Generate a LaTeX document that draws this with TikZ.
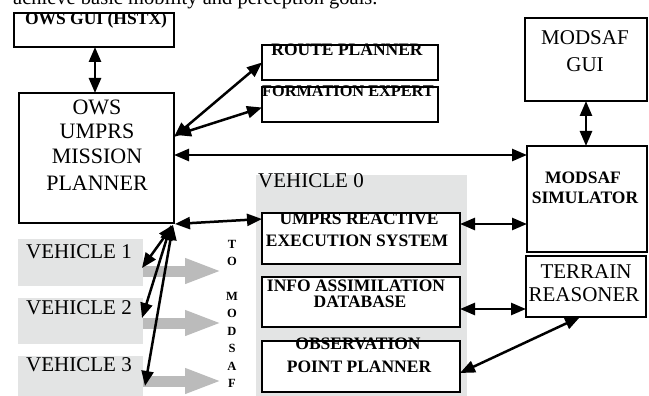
\documentclass[tikz,border=0pt]{standalone}
\usepackage{fontspec}
\setmainfont{Liberation Serif}
\usetikzlibrary{arrows.meta,calc}
\definecolor{bggray}{RGB}{227,228,228}
\definecolor{arrowgray}{RGB}{187,187,187}
\begin{document}
\begin{tikzpicture}[x=1pt,y=-1pt,
  box/.style={draw=black,line width=2.5pt,fill=white,inner sep=0pt,outer sep=0pt,anchor=north west},
  shadebox/.style={fill=bggray,draw=none,inner sep=0pt,outer sep=0pt,anchor=north west},
  lbl/.style={inner sep=0pt,anchor=base,font=\fontsize{21}{24}\selectfont},
  biglbl/.style={inner sep=0pt,anchor=base,font=\fontsize{22}{24}\selectfont},
  blbl/.style={inner sep=0pt,anchor=base,font=\fontsize{17.5}{20}\selectfont\bfseries},
  conn/.style={line width=2.5pt,{Triangle[length=15pt,width=12pt]}-{Triangle[length=15pt,width=12pt]}},
  garrow/.style={line width=11pt,draw=arrowgray,-{Triangle[length=37pt,width=23pt]}}
]
\useasboundingbox (0,0) rectangle (649,396);

% cut-off line of running text
\node[inner sep=0pt,anchor=base west,font=\fontsize{20.5}{24}\selectfont] (toptext) at (13,5) {achieve basic mobility and perception goals.};

% gray backgrounds
\node[shadebox,minimum width=211,minimum height=221] (veh0) at (256,175) {};
\node[shadebox,minimum width=125,minimum height=47] (v1) at (18,239) {};
\node[shadebox,minimum width=125,minimum height=46] (v2) at (18,298) {};
\node[shadebox,minimum width=125,minimum height=40] (v3) at (18,356) {};

% boxes
\node[box,minimum width=160,minimum height=34] (gui) at (14,13) {};
\node[box,minimum width=155,minimum height=130] (plan) at (19,93) {};
\node[box,minimum width=176,minimum height=35] (route) at (262,45) {};
\node[box,minimum width=176,minimum height=35] (form) at (262,87) {};
\node[box,minimum width=122,minimum height=83] (mgui) at (525,18) {};
\node[box,minimum width=120,minimum height=106] (sim) at (527,146) {};
\node[box,minimum width=120,minimum height=61] (terr) at (526,256) {};
\node[box,minimum width=198,minimum height=51] (ures) at (262,213) {};
\node[box,minimum width=198,minimum height=50] (info) at (262,277) {};
\node[box,minimum width=198,minimum height=51] (obs) at (262,341) {};

% texts
\node[blbl] (guit) at (96,25) {OWS GUI (HSTX)};
\node[biglbl] (plant1) at (97,115) {OWS};
\node[biglbl] (plant2) at (97,139) {UMPRS};
\node[biglbl] (plant3) at (97,164) {MISSION};
\node[biglbl] (plant4) at (97,190) {PLANNER};
\node[blbl] (routet) at (347,56) {ROUTE PLANNER};
\node[blbl,font=\fontsize{16.3}{20}\selectfont\bfseries] (formt) at (348,97) {FORMATION EXPERT};
\node[lbl] (mguit1) at (585,45) {MODSAF};
\node[lbl] (mguit2) at (585,72) {GUI};
\node[blbl] (simt1) at (583,183) {MODSAF};
\node[blbl] (simt2) at (585,204) {SIMULATOR};
\node[lbl] (terrt1) at (586,278) {TERRAIN};
\node[lbl] (terrt2) at (584,301) {REASONER};
\node[lbl,anchor=base west] (veh0t) at (258,187) {VEHICLE 0};
\node[blbl] (urest1) at (359,224) {UMPRS REACTIVE};
\node[blbl] (urest2) at (357,246) {EXECUTION SYSTEM};
\node[blbl] (infot1) at (356,291) {INFO ASSIMILATION};
\node[blbl] (infot2) at (360,307) {DATABASE};
\node[blbl] (obst1) at (358,349) {OBSERVATION};
\node[blbl] (obst2) at (359,372) {POINT PLANNER};
\node[lbl,anchor=base west] (v1t) at (26,258) {VEHICLE 1};
\node[lbl,anchor=base west] (v2t) at (26,314) {VEHICLE 2};
\node[lbl,anchor=base west] (v3t) at (26,371) {VEHICLE 3};
\node[inner sep=0pt,anchor=north,align=center,font=\fontsize{12.5}{17.4}\selectfont\bfseries] (tomodsaf) at (232,240) {T\\O\\~\\M\\O\\D\\S\\A\\F};

% borders over the text
\foreach \n in {gui,plan,route,form,mgui,sim,terr,ures,info,obs}
  \draw[line width=2.5pt] (\n.north west) rectangle (\n.south east);

% gray arrows towards MODSAF
\coordinate (g1) at (222,271);
\coordinate (g2) at (222,323);
\coordinate (g3) at (222,381);
\draw[garrow] (v1.east |- g1) -- (g1);
\draw[garrow] (v2.east |- g2) -- (g2);
\draw[garrow] (v3.east |- g3) -- (g3);

% black connectors
\draw[conn] (gui.south -| 95,0) -- (plan.north -| 95,0);
\draw[conn] ($(plan.east)+(0,-21)$) -- (route.west);
\draw[conn] ($(plan.east)+(2,-23)$) -- ($(form.west)+(0,3)$);
\coordinate (hl) at ($(sim.north west)+(0,9)$);
\draw[conn] (plan.east |- hl) -- (hl);
\draw[conn] (mgui.south) -- (mgui.south |- sim.north);
\coordinate (ur) at ($(ures.north east)+(0,11)$);
\draw[conn] (ur) -- (sim.west |- ur);
\coordinate (ir) at ($(info.east)+(0,7)$);
\draw[conn] (ir) -- (terr.west |- ir);
\draw[conn] ($(obs.east)+(0,6.5)$) -- ($(terr.south)+(-6,0)$);
\draw[conn] ($(plan.south east)+(1,1)$) -- ($(ures.north west)+(0,6)$);
\draw[conn] ($(plan.south east)+(-1,2)$) -- ($(v1.south east)+(-1,-18)$);
\draw[conn] ($(plan.south east)+(-3,2)$) -- ($(v2.east)+(-1,-3)$);
\draw[conn] ($(plan.south east)+(-1,2)$) -- ($(v3.east)+(2,10)$);
\end{tikzpicture}
\end{document}
